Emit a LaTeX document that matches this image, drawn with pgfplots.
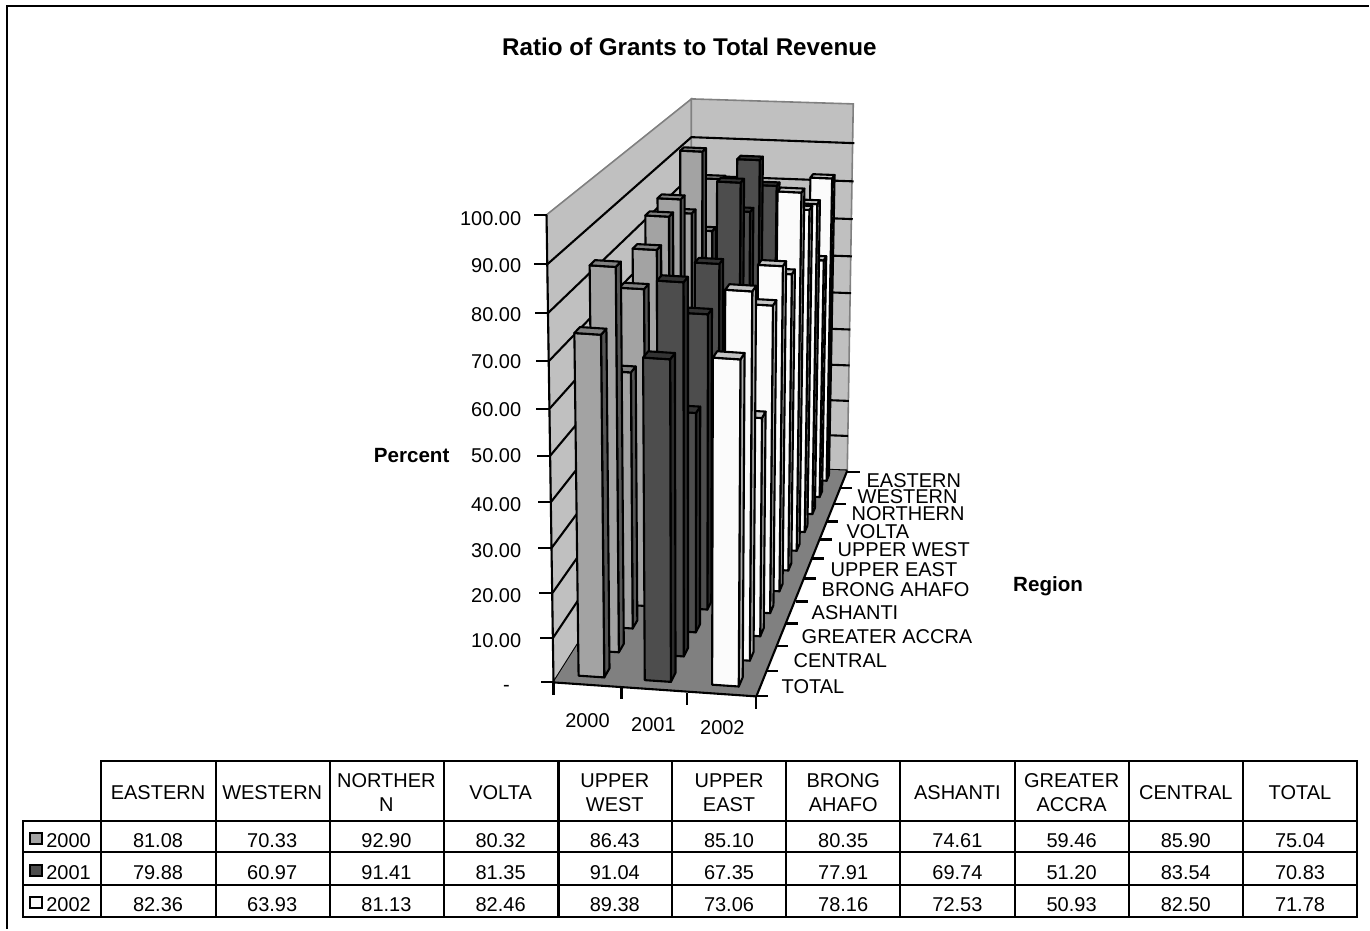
\documentclass[border=0pt]{standalone}
\usepackage{pgfplots}
\usepackage{fontspec}
\setmainfont{Liberation Sans}
\pgfplotsset{compat=1.18}

% one axis unit = one pixel of the reference, 3D view projected by hand
\definecolor{wall}{HTML}{C0C0C0}
\definecolor{edge}{HTML}{808080}
\definecolor{aF}{HTML}{A3A3A3}\definecolor{aS}{HTML}{555555}\definecolor{aT}{HTML}{808080}
\definecolor{bF}{HTML}{4D4D4D}\definecolor{bS}{HTML}{2B2B2B}\definecolor{bT}{HTML}{333333}
\definecolor{cF}{HTML}{FBFBFB}\definecolor{cS}{HTML}{B0B0B0}\definecolor{cT}{HTML}{C4C4C4}

% u across the years, v towards the back, val in percent; result in \<name>x, \<name>y
\newcommand\proj[4]{%
  \pgfmathsetmacro\den{1-0.02698*(#1)+0.317*(#2)}%
  \pgfmathsetmacro\xz{(182.58*(#1)+357.4*(#2)+554)/\den}%
  \pgfmathsetmacro\yz{(-4.8*(#1)-70.6*(#2)+683)/\den}%
  \pgfmathsetmacro\wv{(#3)/100}%
  \pgfmathsetmacro\gv{\wv*0.94/(1-0.06*\wv)}%
  \pgfmathsetmacro\hv{468/(1+0.277*(#2))}%
  \pgfmathsetmacro\xr{\xz+(\xz-692)*0.05*\wv}%
  \pgfmathsetmacro\yr{\yz-\hv*\gv}%
  \expandafter\let\csname #4x\endcsname\xr
  \expandafter\let\csname #4y\endcsname\yr
}
\newcommand\seg[4]{\addplot[black,line width=1.05pt] coordinates {(#1,#2) (#3,#4)};}

% #1 series 0..2, #2 region row (0 = TOTAL at the front), #3 value, #4 colour prefix
\newcommand\datum[4]{%
  \pgfmathsetmacro\ua{(#1+0.5)/3-0.065}%
  \pgfmathsetmacro\ub{(#1+0.5)/3+0.065}%
  \pgfmathsetmacro\va{(#2+0.5)/11-0.017}%
  \pgfmathsetmacro\vb{(#2+0.5)/11+0.015}%
  \proj{\ua}{\va}{0}{P}\proj{\ub}{\va}{0}{Q}\proj{\ub}{\vb}{0}{R}%
  \proj{\ua}{\va}{#3}{S}\proj{\ub}{\va}{#3}{T}\proj{\ub}{\vb}{#3}{U}\proj{\ua}{\vb}{#3}{V}%
  \addplot[fill=#4S,draw=black,line width=1.05pt,line join=round] coordinates {(\Qx,\Qy) (\Rx,\Ry) (\Ux,\Uy) (\Tx,\Ty)} --cycle;
  \addplot[fill=#4F,draw=black,line width=1.05pt,line join=round] coordinates {(\Px,\Py) (\Qx,\Qy) (\Tx,\Ty) (\Sx,\Sy)} --cycle;
  \addplot[fill=#4T,draw=black,line width=1.05pt,line join=round] coordinates {(\Sx,\Sy) (\Tx,\Ty) (\Ux,\Uy) (\Vx,\Vy)} --cycle;
  \node[inner sep=0pt] at (axis cs:{101+114.3*(10-#2+0.5)},{841+32*#1}) {#3};
}
\newcommand\gridl[1]{%
  \proj{0}{0}{#1}{P}\proj{0}{1}{#1}{Q}\proj{1}{1}{#1}{R}%
  \addplot[black,line width=1.05pt] coordinates {(\Px,\Py) (\Qx,\Qy) (\Rx,\Ry)};
  \addplot[black,line width=1.05pt] coordinates {(\Px,\Py) ({\Px-13},\Py)};
}
\newcommand\ylab[2]{\node[anchor=east,inner sep=0pt] at (axis cs:522,#2) {#1};}
\newcommand\rlab[3]{\node[anchor=west,inner sep=0pt] at (axis cs:#2,#3) {#1};}
\newcommand\head[2]{\node[align=center,inner sep=0pt] at (axis cs:{101+114.3*(#1+0.5)},793) {#2};}
\newcommand\swatch[2]{%
  \addplot[fill=#2F,draw=black,line width=0.9pt] coordinates {(30,{834+32*#1}) (42,{834+32*#1}) (42,{845+32*#1}) (30,{845+32*#1})} --cycle;
  \node[anchor=west,inner sep=0pt] at (axis cs:46,{841+32*#1}) {\pgfmathparse{int(2000+#1)}\pgfmathresult};
}

\begin{document}
\begin{tikzpicture}
\begin{axis}[
  scale only axis, width=685pt, height=465pt,
  xmin=0, xmax=1370, ymin=0, ymax=930, y dir=reverse,
  ticks=none, axis line style={draw=none}, clip=false,
  every node/.append style={font=\fontsize{10}{11}\selectfont, text=black!90},
]
  % chart frame, only top and left show
  \addplot[black,line width=1.2pt] coordinates {(7,930) (7,6) (1370,6)};

  % walls and floor
  \addplot[fill=wall,draw=edge,line width=0.8pt] coordinates {(554,683) (547,215) (692,99) (692,465)} --cycle;
  \addplot[fill=wall,draw=edge,line width=0.8pt] coordinates {(692,465) (692,99) (854,104) (848,471)} --cycle;

  \gridl{0}\gridl{10}\gridl{20}\gridl{30}\gridl{40}\gridl{50}\gridl{60}\gridl{70}\gridl{80}\gridl{90}
  \addplot[black,line width=1.05pt] coordinates {(547,215) (534,215)};
  \addplot[fill=edge,draw=none] coordinates {(554,683) (757,697) (848,471) (692,465)} --cycle;
  \seg{547}{215}{554}{683}
  \seg{554}{683}{757}{697}
  \seg{757}{697}{848}{471}

  % ticks under the floor
  \seg{554}{683}{554}{696}\seg{622}{689}{622}{700}\seg{688}{694}{688}{706}\seg{757}{697}{757}{710}
  \seg{848}{472}{861}{472}\seg{842}{488}{853}{488}\seg{835}{504}{847}{504}\seg{828}{522}{839}{522}
  \seg{821}{540}{833}{540}\seg{813}{559}{825}{559}\seg{805}{579}{817}{579}\seg{797}{602}{809}{602}
  \seg{787}{624}{799}{624}\seg{777}{647}{789}{647}\seg{767}{672}{779}{672}\seg{757}{697}{769}{697}

  % bars back to front, each also fills its table cell
  \datum{0}{10}{81.08}{a}\datum{1}{10}{79.88}{b}\datum{2}{10}{82.36}{c}
  \datum{0}{9}{70.33}{a}\datum{1}{9}{60.97}{b}\datum{2}{9}{63.93}{c}
  \datum{0}{8}{92.90}{a}\datum{1}{8}{91.41}{b}\datum{2}{8}{81.13}{c}
  \datum{0}{7}{80.32}{a}\datum{1}{7}{81.35}{b}\datum{2}{7}{82.46}{c}
  \datum{0}{6}{86.43}{a}\datum{1}{6}{91.04}{b}\datum{2}{6}{89.38}{c}
  \datum{0}{5}{85.10}{a}\datum{1}{5}{67.35}{b}\datum{2}{5}{73.06}{c}
  \datum{0}{4}{80.35}{a}\datum{1}{4}{77.91}{b}\datum{2}{4}{78.16}{c}
  \datum{0}{3}{74.61}{a}\datum{1}{3}{69.74}{b}\datum{2}{3}{72.53}{c}
  \datum{0}{2}{59.46}{a}\datum{1}{2}{51.20}{b}\datum{2}{2}{50.93}{c}
  \datum{0}{1}{85.90}{a}\datum{1}{1}{83.54}{b}\datum{2}{1}{82.50}{c}
  \datum{0}{0}{75.04}{a}\datum{1}{0}{70.83}{b}\datum{2}{0}{71.78}{c}

  % titles
  \node[font=\fontsize{12.1}{14}\bfseries,text=black] at (axis cs:690,47) {Ratio of Grants to Total Revenue};
  \node[font=\fontsize{10.3}{12}\bfseries,text=black] at (axis cs:412,456) {Percent};
  \node[font=\fontsize{10.3}{12}\bfseries,text=black] at (axis cs:1049,587) {Region};

  % axis labels
  \ylab{100.00}{219}\ylab{90.00}{266}\ylab{80.00}{315}\ylab{70.00}{362}\ylab{60.00}{410}
  \ylab{50.00}{456}\ylab{40.00}{505}\ylab{30.00}{551}\ylab{20.00}{596}\ylab{10.00}{641}
  \node at (axis cs:507,689) {-};
  \node at (axis cs:588,721) {2000};
  \node at (axis cs:654,725) {2001};
  \node at (axis cs:723,728) {2002};
  \rlab{EASTERN}{867}{481}\rlab{WESTERN}{858}{497}\rlab{NORTHERN}{852}{514}\rlab{VOLTA}{847}{532}
  \rlab{UPPER WEST}{838}{550}\rlab{UPPER EAST}{831}{570}\rlab{BRONG AHAFO}{822}{590}
  \rlab{ASHANTI}{812}{613}\rlab{GREATER ACCRA}{802}{637}\rlab{CENTRAL}{794}{661}\rlab{TOTAL}{782}{687}

  % data table
  \addplot[black,line width=1.1pt] coordinates {(101,822) (101,762) (1358,762) (1358,918) (23,918) (23,822) (1358,822)};
  \seg{23}{853}{1358}{853}\seg{23}{886}{1358}{886}
  \seg{101}{822}{101}{918}
  \seg{216}{762}{216}{918}\seg{330}{762}{330}{918}\seg{444}{762}{444}{918}\seg{559}{762}{559}{918}
  \seg{673}{762}{673}{918}\seg{787}{762}{787}{918}\seg{901}{762}{901}{918}\seg{1016}{762}{1016}{918}
  \seg{1130}{762}{1130}{918}\seg{1244}{762}{1244}{918}
  \head{0}{EASTERN}\head{1}{WESTERN}\head{2}{NORTHER\\N}\head{3}{VOLTA}\head{4}{UPPER\\WEST}
  \head{5}{UPPER\\EAST}\head{6}{BRONG\\AHAFO}\head{7}{ASHANTI}\head{8}{GREATER\\ACCRA}
  \head{9}{CENTRAL}\head{10}{TOTAL}
  \swatch{0}{a}\swatch{1}{b}\swatch{2}{c}
\end{axis}
\end{tikzpicture}
\end{document}
